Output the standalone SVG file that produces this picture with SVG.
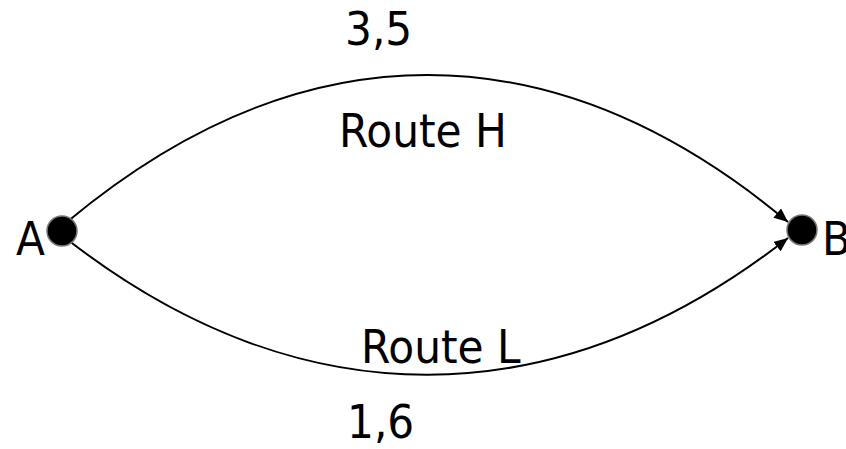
<svg xmlns="http://www.w3.org/2000/svg" width="846" height="449" viewBox="0 0 846 449">
<style>
text{font-family:"DejaVu Sans Condensed","DejaVu Sans",sans-serif;font-size:47px;fill:#000}
.edge{fill:none;stroke:#000;stroke-width:2}
.node{fill:#000;stroke:#777;stroke-width:1.5}
</style>
<defs>
<marker id="arr" viewBox="0 0 14 12" refX="14" refY="6" markerWidth="14" markerHeight="12" markerUnits="userSpaceOnUse" orient="auto">
<path d="M0,0 L14,6 L0,12 Z" fill="#000"/>
</marker>
</defs>
<rect width="846" height="449" fill="#fff"/>
<g id="connectors">
<path id="routeH" class="edge" d="M67,222 C302,26 553,26 788,222" marker-end="url(#arr)"/>
<path id="routeL" class="edge" d="M68,240 C300,420 555,420 788,238" marker-end="url(#arr)"/>
</g>
<g id="nodeA">
<circle class="node" cx="62" cy="231" r="15"/>
<text x="16" y="255">A</text>
</g>
<g id="nodeB">
<circle class="node" cx="802" cy="230" r="15"/>
<text x="822" y="255">B</text>
</g>
<g id="labels">
<text x="345" y="45">3,5</text>
<text x="339" y="147">Route H</text>
<text x="361" y="363">Route L</text>
<text x="347" y="438">1,6</text>
</g>
</svg>
